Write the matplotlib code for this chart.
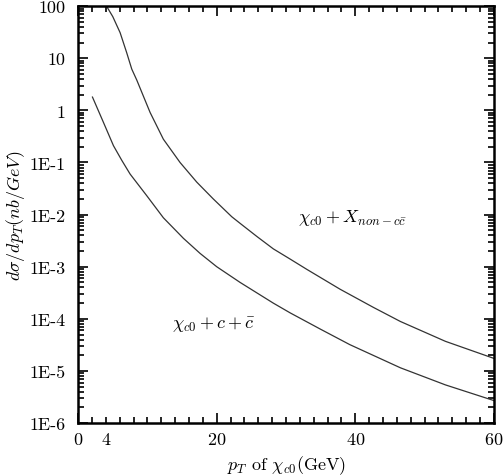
import matplotlib
matplotlib.use("agg")
import matplotlib.pyplot as plt
from matplotlib.ticker import FixedLocator, FixedFormatter, MultipleLocator, FuncFormatter, LogLocator, NullFormatter

# chi_c0 + X_{non-c cbar}
pt_upper = [4.1, 5.0, 6.06, 7.0, 7.74, 8.47, 9.4, 10.39, 12.3, 14.71, 17.12, 19.5,
            22.17, 23.37, 25.8, 28.17, 30.6, 33.0, 37.8, 42.6, 46.5, 53.0, 60.0]
xs_upper = [100, 63, 31, 12.9, 6.2, 3.8, 1.9, 0.91, 0.28, 0.10, 0.042, 0.020,
            9.1e-3, 6.8e-3, 3.8e-3, 2.2e-3, 1.4e-3, 8.9e-4, 3.7e-4, 1.66e-4, 8.9e-5, 3.7e-5, 1.74e-5]

# chi_c0 + c + cbar
pt_lower = [2.07, 3.65, 5.1, 6.3, 7.5, 9.91, 12.3, 15.2, 17.6, 20.0, 23.37, 28.17,
            30.6, 35.0, 39.2, 46.5, 53.0, 60.0]
xs_lower = [1.8, 0.59, 0.21, 0.11, 0.060, 0.023, 8.7e-3, 3.5e-3, 1.8e-3, 1.0e-3, 5.0e-4, 2.0e-4,
            1.3e-4, 6.3e-5, 3.2e-5, 1.15e-5, 5.4e-6, 2.7e-6]

ytick_vals = [1e-6, 1e-5, 1e-4, 1e-3, 1e-2, 1e-1, 1, 10, 100]
ytick_labels = ["1E-6", "1E-5", "1E-4", "1E-3", "1E-2", "1E-1", "1", "10", "100"]
xtick_vals = [0, 20, 40, 60]

plt.rcParams["font.family"] = "cmr10"
plt.rcParams["mathtext.fontset"] = "cm"
plt.rcParams["axes.formatter.use_mathtext"] = True

fig = plt.figure(figsize=(5.04, 4.77), dpi=100)
ax = fig.add_axes([0.155, 0.111, 0.825, 0.874])

ax.plot(pt_upper, xs_upper, color="#333333", lw=0.9)
ax.plot(pt_lower, xs_lower, color="#333333", lw=0.9)

ax.set_yscale("log")
ax.set_xlim(0, 60)
ax.set_ylim(1e-6, 100)

ax.yaxis.set_major_locator(FixedLocator(ytick_vals))
ax.yaxis.set_major_formatter(FixedFormatter(ytick_labels))
ax.yaxis.set_minor_locator(LogLocator(base=10, subs=range(2, 10)))
ax.yaxis.set_minor_formatter(NullFormatter())

ax.xaxis.set_major_locator(FixedLocator(xtick_vals))
ax.xaxis.set_minor_locator(MultipleLocator(2))
ax.xaxis.set_minor_formatter(FuncFormatter(lambda v, p: "4" if abs(v - 4) < 1e-6 else ""))

ax.tick_params(which="both", direction="in", top=True, right=True, labelsize=13, width=1.2)
ax.tick_params(which="major", length=7)
ax.tick_params(which="minor", length=4)
ax.tick_params(axis="x", which="both", pad=6)
ax.tick_params(axis="y", which="both", pad=9)
for s in ax.spines.values():
    s.set_linewidth(1.8)

ax.set_xlabel(r"$p_T$ of $\chi_{c0}$(GeV)", fontsize=13, labelpad=4)
ax.set_ylabel(r"$d\sigma/dp_T(nb/GeV)$", fontsize=13, labelpad=2)

ax.text(31.7, 9e-3, r"$\chi_{c0}+X_{non-c\bar{c}}$", fontsize=13, va="center")
ax.text(13.6, 8e-5, r"$\chi_{c0}+c+\bar{c}$", fontsize=13, va="center")

fig.savefig("out.png", dpi=100)
